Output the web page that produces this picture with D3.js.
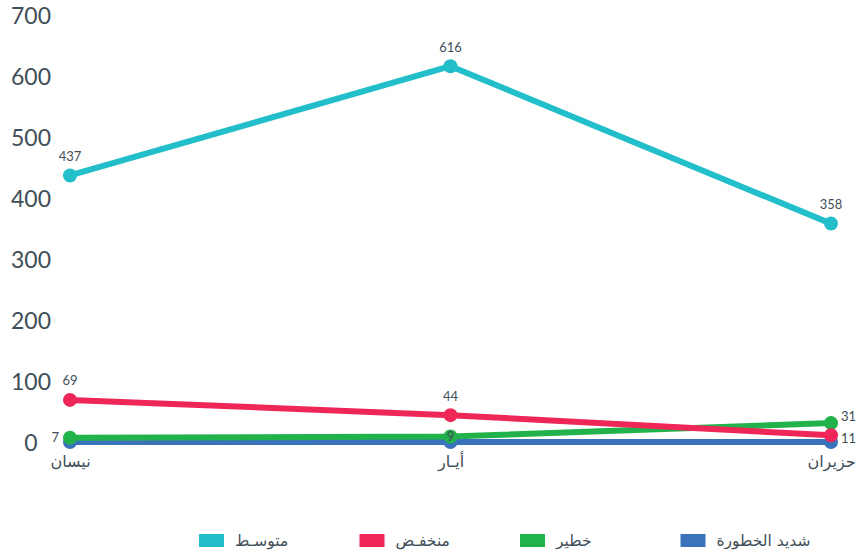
<!DOCTYPE html>
<html lang="ar">
<head>
<meta charset="utf-8">
<script src="https://cdn.jsdelivr.net/npm/d3@7"></script>
<style>
  html, body { margin: 0; padding: 0; background: #fff; }
  svg { display: block; }
  text { font-family: Lato, "Noto Sans", "DejaVu Sans", sans-serif; }
</style>
</head>
<body>
<svg id="chart" width="856" height="553"></svg>
<script>
// Months (x categories)
const months = ["نيسان", "أيـار", "حزيران"];

// Series values per month
const medium   = [437, 616, 358];   // متوسط
const low      = [69, 44, 11];      // منخفض
const high     = [7, 9, 31];        // خطير
const critical = [0, 0, 0];         // شديد الخطورة

// Series names (legend)
const seriesNames = ["متوسـط", "منخفـض", "خطير", "شديد الخطورة"];

// Y axis ticks
const yTicks = [0, 100, 200, 300, 400, 500, 600, 700];

const colors = {
  "متوسـط": "#22bfcb",
  "منخفـض": "#ee2758",
  "خطير": "#22b24c",
  "شديد الخطورة": "#3b73ba"
};

const series = [
  { name: seriesNames[3], values: critical, showLabels: false },
  { name: seriesNames[2], values: high, showLabels: true },
  { name: seriesNames[1], values: low, showLabels: true },
  { name: seriesNames[0], values: medium, showLabels: true }
];

const svg = d3.select("#chart");

const x = d3.scalePoint().domain(months).range([70, 831]);
const y = d3.scaleLinear().domain([0, 700]).range([442, 15]);

// Y axis labels (no domain line, no tick marks)
const yAxis = svg.append("g")
  .attr("transform", "translate(31,0)")
  .call(d3.axisLeft(y).tickValues(yTicks).tickSize(0).tickPadding(0));
yAxis.select(".domain").remove();
yAxis.selectAll("text")
  .attr("text-anchor", "middle")
  .attr("x", 0)
  .attr("dy", "0.36em")
  .style("font-family", "Lato, 'Noto Sans', sans-serif")
  .style("font-size", "23px")
  .attr("fill", "#3f4e57");

// X axis labels
const xAxis = svg.append("g")
  .attr("transform", "translate(0,455)")
  .call(d3.axisBottom(x).tickSize(0).tickPadding(0));
xAxis.select(".domain").remove();
xAxis.selectAll("text")
  .attr("dy", "0.75em")
  .style("font-family", "'DejaVu Sans', sans-serif")
  .style("font-size", "16px")
  .attr("fill", "#3f4e57");

// Lines
const line = d3.line()
  .x((d, i) => x(months[i]))
  .y(d => y(d));

const g = svg.append("g");
series.forEach(s => {
  g.append("path")
    .datum(s.values)
    .attr("d", line)
    .attr("fill", "none")
    .attr("stroke", colors[s.name])
    .attr("stroke-width", 6)
    .attr("stroke-linejoin", "round");
  g.selectAll(null)
    .data(s.values)
    .join("circle")
    .attr("cx", (d, i) => x(months[i]))
    .attr("cy", d => y(d))
    .attr("r", 7)
    .attr("fill", colors[s.name]);
});

// Value labels: placement chosen to avoid overlapping neighbouring marks
function placement(name, i) {
  if (name === seriesNames[2]) {
    if (i === 0) return { dx: -11, dy: 0, anchor: "end" };
    if (i === 1) return { dx: 0, dy: 0, anchor: "middle" };
    return { dx: 10, dy: -7, anchor: "start" };
  }
  if (name === seriesNames[1] && i === 2) return { dx: 10, dy: 3, anchor: "start" };
  return { dx: 0, dy: -19, anchor: "middle" };
}

const lg = svg.append("g");
series.filter(s => s.showLabels).forEach(s => {
  s.values.forEach((v, i) => {
    const p = placement(s.name, i);
    lg.append("text")
      .attr("x", x(months[i]) + p.dx)
      .attr("y", y(v) + p.dy)
      .attr("dy", "0.35em")
      .attr("text-anchor", p.anchor)
      .style("font-size", "13px")
      .attr("fill", "#3f4e57")
      .text(v);
  });
});

// Legend
const legend = svg.append("g");
seriesNames.forEach((name, i) => {
  const lx = 199 + i * 160.5;
  legend.append("rect")
    .attr("x", lx)
    .attr("y", 534)
    .attr("width", 25)
    .attr("height", 13)
    .attr("fill", colors[name]);
  legend.append("text")
    .attr("x", lx + 36)
    .attr("y", 540.5)
    .attr("dy", "0.35em")
    .attr("text-anchor", "start")
    .style("font-family", "'DejaVu Sans', sans-serif")
    .style("font-size", "15.5px")
    .attr("fill", "#3f4e57")
    .text(name);
});
</script>
</body>
</html>
